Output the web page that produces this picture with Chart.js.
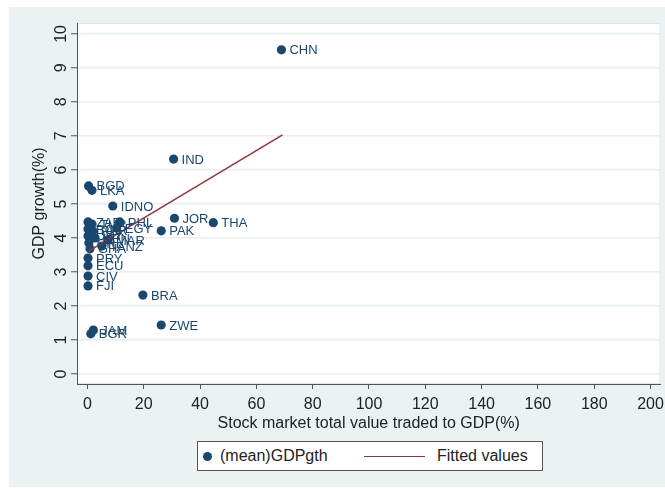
<!DOCTYPE html>
<html lang="en">
<head>
  <meta charset="UTF-8" />
  <title>GDP growth vs stock market value traded</title>
  <script src="https://cdn.jsdelivr.net/npm/chart.js"></script>
  <style>
    html, body { margin: 0; padding: 0; background: #fff; overflow: hidden; }
    #wrap { position: relative; width: 665px; height: 489px; font-family: "Liberation Sans", Arial, sans-serif; }
    #bg { position: absolute; left: 9px; top: 7px; width: 656px; height: 480px; background: #eaf2f3; }
    #chart { position: absolute; left: 0; top: 0; }
    #legend { position: absolute; left: 197px; top: 441px; width: 346px; height: 30px; box-sizing: border-box;
              border: 1px solid #555; background: #fff; font-size: 16px; color: #222; }
    #legend .dot { position: absolute; left: 5px; top: 10px; width: 9px; height: 9px; border-radius: 50%; background: #1a476f; }
    #legend .line { position: absolute; left: 166px; top: 14px; width: 61px; height: 0; border-top: 1.5px solid #90353b; }
    #legend span { position: absolute; top: 5px; white-space: nowrap; }
  </style>
</head>
<body>
  <div id="wrap">
    <div id="bg"></div>
    <canvas id="chart" width="665" height="489"></canvas>
    <div id="legend">
      <div class="dot"></div><span style="left:22px">(mean)GDPgth</span>
      <div class="line"></div><span style="left:239px">Fitted values</span>
    </div>
  </div>

  <script>
    // country codes and their values
    const countries = ["CHN", "IND", "BGD", "LKA", "IDNO", "JOR", "THA", "PAK",
      "ZAF", "TUR", "PHL", "EGY", "BOL", "PER", "URY", "KEN", "MAR", "CRI", "TANZ", "GHA",
      "PRY", "ECU", "CIV", "FJI", "BRA", "ZWE", "JAM", "BGR"];
    const stockTraded = [68.9, 30.6, 0.4, 1.6, 9.0, 30.9, 44.7, 26.2,
      0.2, 1.6, 11.5, 10.4, 0.2, 1.9, 0.2, 2.7, 7.3, 0.5, 5.1, 0.9,
      0.2, 0.2, 0.2, 0.2, 19.7, 26.2, 2.1, 1.2];
    const gdpGrowth = [9.53, 6.32, 5.53, 5.40, 4.94, 4.58, 4.45, 4.21,
      4.47, 4.41, 4.47, 4.29, 4.26, 4.21, 4.06, 4.00, 3.94, 3.85, 3.76, 3.68,
      3.41, 3.18, 2.88, 2.59, 2.32, 1.44, 1.29, 1.18];

    // fitted line end points
    const fitX = [0.1, 69.3];
    const fitY = [3.60, 7.03];

    const xTicks = [0, 20, 40, 60, 80, 100, 120, 140, 160, 180, 200];
    const yTicks = [0, 1, 2, 3, 4, 5, 6, 7, 8, 9, 10];

    const navy = "#1a476f";
    const maroon = "#90353b";
    const font = "'Liberation Sans', Arial, sans-serif";

    const points = countries.map((c, i) => ({ x: stockTraded[i], y: gdpGrowth[i] }));
    const fitPoints = fitX.map((x, i) => ({ x: x, y: fitY[i] }));

    // white plot region behind everything
    const plotBg = {
      id: "plotBg",
      beforeDraw(chart) {
        const a = chart.chartArea, c = chart.ctx;
        c.save();
        c.fillStyle = "#fff";
        c.fillRect(a.left, a.top, a.right - a.left, a.bottom - a.top);
        c.strokeStyle = "#dfe6e8";
        c.lineWidth = 1;
        c.strokeRect(a.left + 0.5, a.top + 0.5, a.right - a.left - 1, a.bottom - a.top - 1);
        c.restore();
      }
    };

    // marker labels to the right of each point
    const markerLabels = {
      id: "markerLabels",
      afterDatasetsDraw(chart) {
        const meta = chart.getDatasetMeta(1);
        const c = chart.ctx;
        c.save();
        c.font = "13px " + font;
        c.fillStyle = navy;
        c.textBaseline = "middle";
        meta.data.forEach((el, i) => {
          c.fillText(countries[i], el.x + 8, el.y + 1);
        });
        c.restore();
      }
    };

    Chart.defaults.font.family = font;
    Chart.defaults.color = "#222";

    new Chart(document.getElementById("chart"), {
      data: {
        datasets: [
          {
            type: "line",
            label: "Fitted values",
            data: fitPoints,
            borderColor: maroon,
            borderWidth: 1.5,
            pointRadius: 0,
            fill: false
          },
          {
            type: "scatter",
            label: "(mean)GDPgth",
            data: points,
            backgroundColor: navy,
            borderWidth: 0,
            pointRadius: 4.6,
            pointHoverRadius: 4.6
          }
        ]
      },
      options: {
        responsive: false,
        animation: false,
        devicePixelRatio: 1,
        layout: { padding: { top: 23, right: 2, bottom: 0, left: 0 } },
        plugins: {
          legend: { display: false },
          tooltip: { enabled: false }
        },
        scales: {
          x: {
            type: "linear",
            min: -3.71,
            max: 203.5,
            afterBuildTicks: s => { s.ticks = xTicks.map(v => ({ value: v })); },
            afterFit: s => { s.height = 105; s.paddingLeft = 0; s.paddingRight = 0; },
            grid: { drawOnChartArea: false, drawTicks: true, tickLength: 5, tickColor: "#555", tickWidth: 1 },
            border: { display: true, color: "#555", width: 1 },
            ticks: { font: { size: 16 }, color: "#222", padding: 6, maxRotation: 0 },
            title: {
              display: true,
              text: "Stock market total value traded to GDP(%)",
              font: { size: 16 },
              color: "#222",
              padding: { top: 0, bottom: 56 }
            }
          },
          y: {
            type: "linear",
            min: -0.294,
            max: 10.32,
            afterBuildTicks: s => { s.ticks = yTicks.map(v => ({ value: v })); },
            afterFit: s => { s.width = 77; },
            grid: { color: "#e6eef0", lineWidth: 1.5, drawTicks: true, tickLength: 6, tickColor: "#555", tickWidth: 1 },
            border: { display: true, color: "#555", width: 1 },
            ticks: { font: { size: 16 }, color: "#222", padding: 1, minRotation: 90, maxRotation: 90, crossAlign: "center" },
            title: {
              display: true,
              text: "GDP growth(%)",
              font: { size: 16 },
              color: "#222",
              padding: { top: 30, bottom: 0 }
            }
          }
        }
      },
      plugins: [plotBg, markerLabels]
    });
  </script>
</body>
</html>
